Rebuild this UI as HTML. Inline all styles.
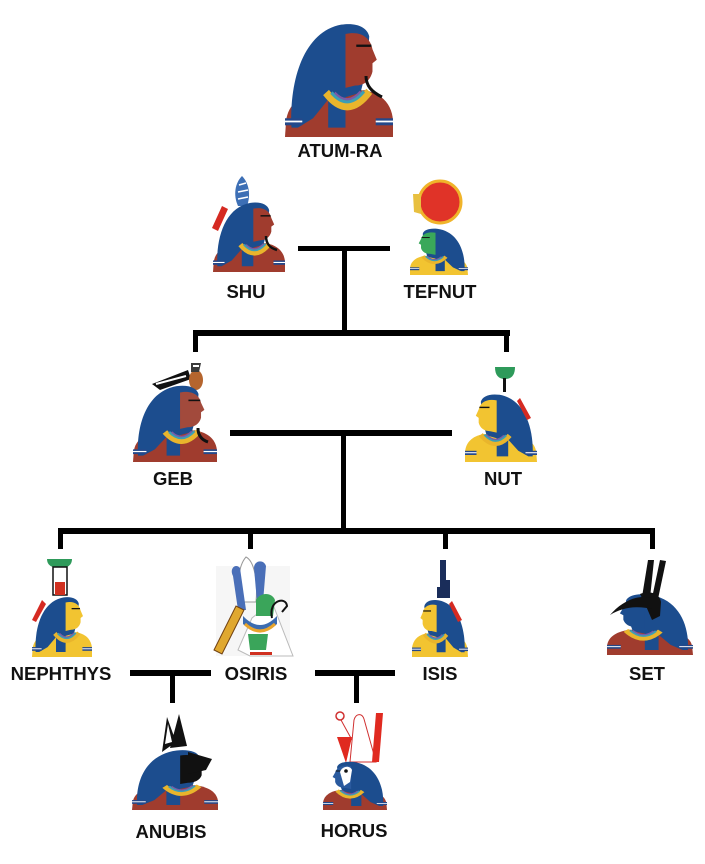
<!DOCTYPE html>
<html><head><meta charset="utf-8"><style>
html,body{margin:0;padding:0;background:#fff;}
svg{display:block;}
text{font-family:"Liberation Sans",Arial,sans-serif;font-weight:bold;font-size:18.5px;fill:#111;text-anchor:middle;}
</style></head><body>
<svg width="705" height="864" viewBox="0 0 705 864" xmlns="http://www.w3.org/2000/svg" xmlns:xlink="http://www.w3.org/1999/xlink">
<defs>
<symbol id="bust" viewBox="0 0 100 100" preserveAspectRatio="none" overflow="visible">
 <path d="M0,100 L1,86 C3,72 14,64 32,60 L74,60 C90,63 99,72 100,86 L100,100 Z" style="fill:var(--body)"/>
 <path d="M6,92 C4,50 18,10 52,4 C66,2 76,6 78,14 L76,40 L70,62 L56,66 L56,92 L40,92 L40,68 L26,84 L12,92 Z" style="fill:var(--hair)"/>
 <path d="M56,12 C70,9 79,15 81,25 L85,34 L81,37 L81,44 C79,52 73,56 65,56 L56,58 Z" style="fill:var(--skin)"/>
 <path d="M38,62 Q58,86 78,61" fill="none" stroke="#e9b52c" stroke-width="7"/>
 <path d="M43,62 Q58,78 73,61" fill="none" stroke="#3c9fb5" stroke-width="3"/>
 <path d="M46,62 Q58,74 70,61" fill="none" stroke="#7a5aa6" stroke-width="2"/>
 <rect x="0" y="84" width="16" height="6" fill="#24488a"/>
 <rect x="84" y="84" width="16" height="6" fill="#24488a"/>
 <rect x="0" y="86" width="16" height="1.5" fill="#fff"/>
 <rect x="84" y="86" width="16" height="1.5" fill="#fff"/>
 <path d="M66,22 L80,22" stroke="#111" stroke-width="2"/>
</symbol>
</defs>

<!-- connector lines -->
<g fill="#000">
 <rect x="298" y="246" width="92" height="5"/>
 <rect x="342" y="246" width="5" height="88"/>
 <rect x="193" y="330" width="317" height="6"/>
 <rect x="193" y="330" width="5" height="22"/>
 <rect x="504" y="330" width="5" height="22"/>
 <rect x="230" y="430" width="222" height="6"/>
 <rect x="341" y="430" width="5" height="102"/>
 <rect x="58" y="528" width="597" height="6"/>
 <rect x="58" y="528" width="5" height="21"/>
 <rect x="248" y="528" width="5" height="21"/>
 <rect x="443" y="528" width="5" height="21"/>
 <rect x="650" y="528" width="5" height="21"/>
 <rect x="130" y="670" width="81" height="6"/>
 <rect x="170" y="670" width="5" height="33"/>
 <rect x="315" y="670" width="80" height="6"/>
 <rect x="354" y="670" width="5" height="33"/>
</g>

<!-- ATUM-RA -->
<use xlink:href="#bust" href="#bust" x="285" y="20" width="108" height="117" style="--body:#a03c2e;--hair:#1c4d8e;--skin:#a03c2e"/>
<path d="M366,76 C366,86 372,92 382,97" fill="none" stroke="#111" stroke-width="3"/>

<!-- SHU -->
<path d="M238,206 C233,195 235,183 242,176 C249,183 251,195 247,206 Z" fill="#3d6fb5"/>
<path d="M239,185 L246,183 M238,192 L248,190 M238,199 L248,197" stroke="#fff" stroke-width="1.5"/>
<use xlink:href="#bust" href="#bust" x="213" y="200" width="72" height="72" style="--body:#a03c2e;--hair:#1c4d8e;--skin:#a03c2e"/>
<path d="M222,206 L212,228 L218,231 L228,209 Z" fill="#d52a22"/>
<path d="M266,236 C266,244 270,248 277,250" fill="none" stroke="#111" stroke-width="2.5"/>

<!-- TEFNUT -->
<circle cx="440" cy="202" r="21" fill="#e03328" stroke="#f0b42a" stroke-width="3"/>
<path d="M413,194 L421,194 L421,214 L414,212 Z" fill="#e8c040"/>
<use xlink:href="#bust" href="#bust" x="0" y="0" width="58" height="48" transform="translate(468,227) scale(-1,1)" style="--body:#f2c431;--hair:#1c4d8e;--skin:#3aa85a"/>

<!-- GEB -->
<path d="M152,384 L188,370 L191,379 L160,390 Z" fill="#111"/>
<path d="M156,384 L186,376" stroke="#fff" stroke-width="2"/>
<ellipse cx="196" cy="380" rx="7" ry="10" fill="#b5652e"/>
<path d="M191,372 L191,363 L201,363 L199,372 Z" fill="#3a3a3a"/>
<path d="M193,366 L199,366" stroke="#fff" stroke-width="2"/>
<use xlink:href="#bust" href="#bust" x="133" y="383" width="84" height="79" style="--body:#a03c2e;--hair:#1c4d8e;--skin:#a24a3c"/>
<path d="M198,428 C198,436 202,440 208,442" fill="none" stroke="#111" stroke-width="3"/>

<!-- NUT -->
<path d="M495,367 L515,367 Q515,379 505,379 Q495,379 495,367 Z" fill="#2e9a5a"/>
<rect x="503" y="378" width="3" height="14" fill="#111"/>
<use xlink:href="#bust" href="#bust" x="0" y="0" width="72" height="70" transform="translate(537,392) scale(-1,1)" style="--body:#f2c431;--hair:#1c4d8e;--skin:#f2c431"/>
<path d="M520,398 L531,418 L527,420 L517,401 Z" fill="#d52a22"/>

<!-- NEPHTHYS -->
<path d="M47,559 L72,559 Q72,568 60,568 Q47,568 47,559 Z" fill="#2e9a5a"/>
<rect x="53" y="567" width="14" height="28" fill="#fff" stroke="#111" stroke-width="1.5"/>
<rect x="55" y="582" width="10" height="13" fill="#d03020"/>
<use xlink:href="#bust" href="#bust" x="32" y="595" width="60" height="62" style="--body:#f2c431;--hair:#1c4d8e;--skin:#f2c431"/>
<path d="M42,600 L32,620 L36,622 L46,604 Z" fill="#d52a22"/>

<!-- OSIRIS -->
<rect x="216" y="566" width="74" height="90" fill="#f6f6f6"/>
<path d="M238,650 L252,618 L272,602 L293,656 L250,656 Z" fill="#fff" stroke="#bbb" stroke-width="1"/>
<path d="M241,602 C237,585 238,566 246,557 C254,561 258,580 256,602 Z" fill="#fff" stroke="#999" stroke-width="1"/>
<path d="M233,576 C229,568 236,563 240,568 L246,610 L238,610 Z" fill="#4a6fb8"/>
<path d="M254,568 C254,560 264,559 266,566 L263,602 L257,602 Z" fill="#4a6fb8"/>
<path d="M256,600 C260,592 272,592 275,600 L273,616 L256,616 Z" fill="#3aa55a"/>
<path d="M243,616 Q260,634 277,616 L277,624 Q260,640 243,624 Z" fill="#3c6cb0"/>
<path d="M245,624 Q260,638 275,624" fill="none" stroke="#e9a52c" stroke-width="3"/>
<path d="M272,618 C268,600 286,596 287,606 L282,612" fill="none" stroke="#111" stroke-width="2"/>
<path d="M214,650 L236,606 L244,610 L222,654 Z" fill="#e0a830" stroke="#704010" stroke-width="1"/>
<path d="M248,634 L268,634 L266,650 L250,650 Z" fill="#3aa55a"/>
<rect x="250" y="652" width="22" height="3" fill="#d03020"/>

<!-- ISIS -->
<path d="M440,560 L446,560 L446,580 L450,580 L450,598 L437,598 L437,587 L440,587 Z" fill="#1a2d5a"/>
<use xlink:href="#bust" href="#bust" x="0" y="0" width="56" height="59" transform="translate(468,598) scale(-1,1)" style="--body:#f2c431;--hair:#1c4d8e;--skin:#f2c431"/>
<path d="M452,601 L462,620 L458,622 L449,604 Z" fill="#d52a22"/>

<!-- SET -->
<polygon points="642,597 648,560 654,560 650,598" fill="#111"/>
<polygon points="652,598 660,560 666,561 658,599" fill="#111"/>
<use xlink:href="#bust" href="#bust" x="0" y="0" width="86" height="63" transform="translate(693,592) scale(-1,1)" style="--body:#a03c2e;--hair:#1c4d8e;--skin:#1c4d8e"/>
<path d="M640,594 C650,590 660,594 661,602 L660,616 L652,620 L646,606 Z" fill="#111"/>
<path d="M652,598 C638,594 622,601 610,615 C624,606 640,606 652,609 Z" fill="#111"/>

<!-- ANUBIS -->
<polygon points="162,752 167,717 176,742" fill="#111"/>
<polygon points="170,748 179,714 187,746" fill="#111"/>
<path d="M165,744 L168,724 L172,742 Z" fill="#fff"/>
<use xlink:href="#bust" href="#bust" x="132" y="748" width="86" height="62" style="--body:#a03c2e;--hair:#1c4d8e;--skin:#111"/>
<path d="M188,752 L212,759 L206,770 L188,774 Z" fill="#111"/>

<!-- HORUS -->
<circle cx="340" cy="716" r="4" fill="none" stroke="#d03030" stroke-width="1.5"/>
<path d="M341,720 L352,740" stroke="#d03030" stroke-width="1"/>
<path d="M350,762 L354,720 C356,713 362,713 364,719 L376,762 Z" fill="#fff" stroke="#d03030" stroke-width="1"/>
<polygon points="337,737 352,737 346,763" fill="#e02a20"/>
<polygon points="376,713 383,713 379,762 372,762" fill="#e02a20"/>
<use xlink:href="#bust" href="#bust" x="0" y="0" width="64" height="50" transform="translate(387,760) scale(-1,1)" style="--body:#a03c2e;--hair:#1c4d8e;--skin:#2a5a9e"/>
<path d="M340,772 C342,766 350,765 352,770 L350,782 L344,786 Z" fill="#fff"/>
<circle cx="346" cy="771" r="1.8" fill="#111"/>

<!-- labels -->
<text x="340" y="157">ATUM-RA</text>
<text x="246" y="298">SHU</text>
<text x="440" y="298">TEFNUT</text>
<text x="173" y="485">GEB</text>
<text x="503" y="485">NUT</text>
<text x="61" y="680">NEPHTHYS</text>
<text x="256" y="680">OSIRIS</text>
<text x="440" y="680">ISIS</text>
<text x="647" y="680">SET</text>
<text x="171" y="838">ANUBIS</text>
<text x="354" y="837">HORUS</text>
</svg>
</body></html>
